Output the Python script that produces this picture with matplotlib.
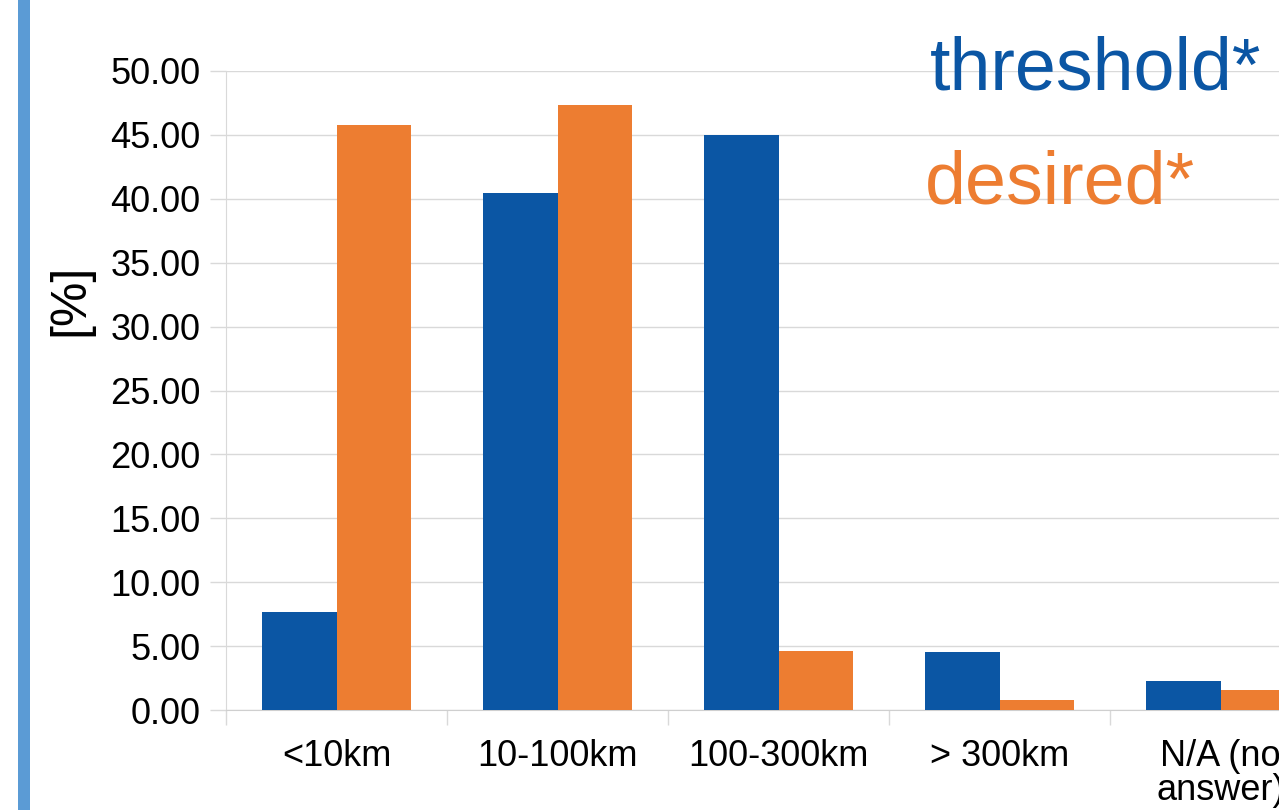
import numpy as np
import matplotlib.pyplot as plt
from matplotlib.patches import Rectangle

plt.rcParams["font.family"] = ["Liberation Sans", "DejaVu Sans"]

categories = ["<10km", "10-100km", "100-300km", "> 300km", "N/A (no\nanswer)"]
threshold = [7.67, 40.45, 45.0, 4.55, 2.27]
desired = [45.77, 47.34, 4.62, 0.78, 1.56]

blue = "#0b56a4"
orange = "#ed7d31"
grid = "#d9d9d9"

fig = plt.figure(figsize=(12.79, 8.10), dpi=100)
ax = fig.add_axes([226 / 1279, 100 / 810, 1105 / 1279, 639 / 810])

x = np.arange(len(categories))
w = 0.335
ax.bar(x - w / 2, threshold, w, color=blue, zorder=3)
ax.bar(x + w / 2, desired, w, color=orange, zorder=3)

ax.set_xlim(-0.5, len(categories) - 0.5)
ax.set_ylim(0, 50)
ax.set_yticks(np.arange(0, 51, 5))
ax.set_yticklabels([f"{v:.2f}" for v in np.arange(0, 51, 5)])
ax.set_xticks(x)
ax.set_xticklabels(categories)
ax.set_xticks(np.arange(len(categories)) - 0.5, minor=True)

ax.tick_params(axis="y", labelsize=26, length=11.5, width=1, color=grid, pad=7)
ax.tick_params(axis="x", which="major", labelsize=26, length=0, pad=21)
ax.tick_params(axis="x", which="minor", length=11, width=1, color=grid)
for lab in ax.get_xticklabels():
    lab.set_linespacing(0.95)

ax.grid(axis="y", color=grid, linewidth=1, zorder=0)
for s in ["top", "right"]:
    ax.spines[s].set_visible(False)
ax.spines["left"].set_color(grid)
ax.spines["bottom"].set_color("#cfcfcf")

fig.text(70 / 1279, 1 - 300 / 810, "[%]", rotation=90, fontsize=36,
         ha="center", va="center")
fig.text(930 / 1279, 1 - 89 / 810, "threshold*", color=blue, fontsize=53,
         ha="left", va="baseline")
fig.text(925 / 1279, 1 - 203 / 810, "desired*", color=orange, fontsize=53,
         ha="left", va="baseline")

fig.add_artist(Rectangle((18 / 1279, 0), 12 / 1279, 1, transform=fig.transFigure,
                         color="#5b9bd5", lw=0))

fig.savefig("out.png", dpi=100)
